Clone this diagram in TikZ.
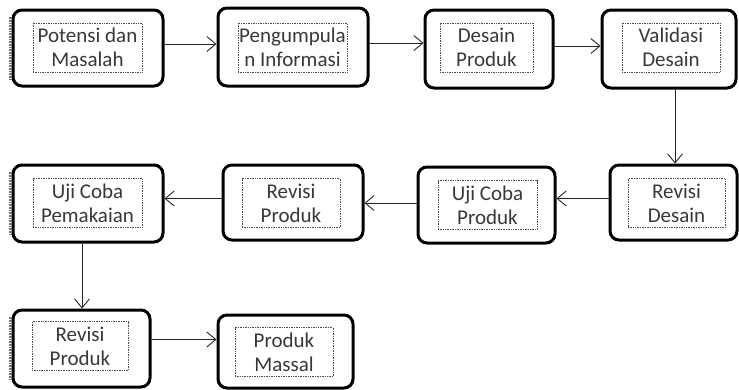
\documentclass[tikz,border=0pt]{standalone}
\usepackage{fontspec}
\setmainfont{Carlito}
\usetikzlibrary{arrows.meta}
\definecolor{txt}{HTML}{383838}
\tikzset{
  x=1pt,y=-1pt,
  outer/.style={draw=black,line width=3pt,rounded corners=9pt,minimum width=#1,minimum height=76pt,inner sep=0pt},
  inner/.style={draw=black!70,densely dotted,line width=0.7pt,minimum width=#1,minimum height=49pt,inner sep=0pt,align=center,
     font=\fontsize{21}{24}\selectfont,text=txt},
  conn/.style={draw=black!85,line width=0.9pt,-{Straight Barb[length=9pt,width=15pt,line width=0.9pt]}},
  shade/.style={draw=black!55,line width=3pt,dash pattern=on 0.8pt off 0.8pt}
}
\begin{document}
\begin{tikzpicture}
\useasboundingbox (0,0) rectangle (739,389);
% row 1
\node[outer=150pt] (A) at (88,48) {};
\node[inner=109pt] (a) at (87.5,47.5) {Potensi dan\\Masalah};
\node[outer=150pt,minimum height=78pt] (B) at (293,47) {};
\node[inner=109pt] (b) at (292.5,47.5) {Pengumpula\\n Informasi};
\node[outer=128pt,minimum height=78pt] (C) at (489,49) {};
\node[inner=93pt] (c) at (486.5,47.5) {Desain\\Produk};
\node[outer=134pt,minimum height=78pt] (D) at (669,49) {};
\node[inner=98pt] (d) at (671,47.5) {Validasi\\Desain};
% row 2
\node[outer=127pt,minimum height=75pt] (E) at (673.5,202.5) {};
\node[inner=97pt] (e) at (676.5,203) {Revisi\\Desain};
\node[outer=137pt] (F) at (486.5,205) {};
\node[inner=99pt] (f) at (487.5,205) {Uji Coba\\Produk};
\node[outer=140pt,minimum height=75pt] (G) at (293,202.5) {};
\node[inner=98pt] (g) at (291,203) {Revisi\\Produk};
\node[outer=150pt,minimum height=77pt] (H) at (88,203.5) {};
\node[inner=109pt] (h) at (87.5,203) {Uji Coba\\Pemakaian};
% row 3
\node[outer=137pt,minimum height=77pt] (I) at (81.5,348.5) {};
\node[inner=96pt] (i) at (80,346) {Revisi\\Produk};
\node[outer=135pt,minimum height=73pt] (J) at (285.5,351.5) {};
\node[inner=98pt] (j) at (284,352) {Produk\\Massal};
% left-edge shading marks
\draw[shade] ([xshift=-1.5pt,yshift=-8pt]A.north west) -- ([xshift=-1.5pt,yshift=8pt]A.south west);
\draw[shade] ([xshift=-1.5pt,yshift=-8pt]H.north west) -- ([xshift=-1.5pt,yshift=8pt]H.south west);
\draw[shade] ([xshift=-1.5pt,yshift=-8pt]I.north west) -- ([xshift=-1.5pt,yshift=8pt]I.south west);
% connectors
\draw[conn] ([yshift=4pt]A.east) -- ([yshift=4pt]A.east -| B.west);
\draw[conn] ([yshift=4pt]B.east) -- ([yshift=4pt]B.east -| C.west);
\draw[conn] ([yshift=3pt]C.east) -- ([yshift=3pt]C.east -| D.west);
\draw[conn] ([xshift=6pt]D.south) -- ([xshift=6pt]D.south |- E.north);
\draw[conn] ([yshift=4pt]E.west) -- ([yshift=4pt]E.west -| F.east);
\draw[conn] ([yshift=2pt]F.west) -- ([yshift=2pt]F.west -| G.east);
\draw[conn] ([yshift=4pt]G.west) -- ([yshift=4pt]G.west -| H.east);
\draw[conn] ([xshift=-6pt]H.south) -- ([xshift=-6pt]H.south |- I.north);
\draw[conn] ([yshift=9pt]I.east) -- ([yshift=9pt]I.east -| J.west);
\end{tikzpicture}
\end{document}
